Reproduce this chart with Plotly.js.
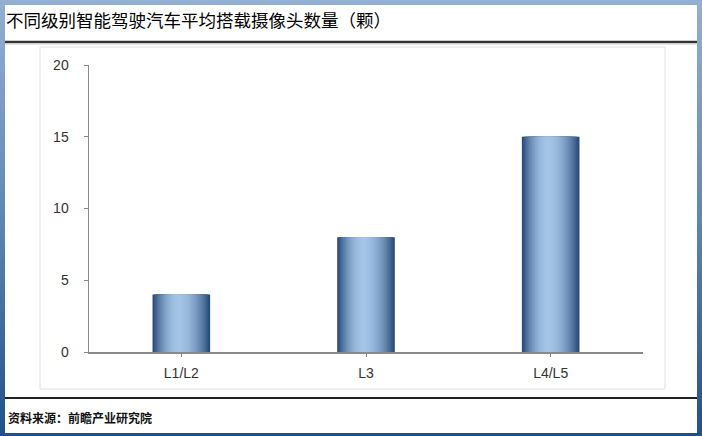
<!DOCTYPE html>
<html>
<head>
<meta charset="utf-8">
<script src="https://cdn.plot.ly/plotly-3.0.1.min.js"></script>
<style>
  html, body { margin: 0; padding: 0; background: #fff; }
  #wrap { position: relative; width: 702px; height: 436px; overflow: hidden;
          background: linear-gradient(to bottom, #93b0d2 0%, #5f86b3 50%, #1f5188 100%); }
  #chart { position: absolute; left: 5px; top: 5px; width: 692px; height: 428px; background: #fff; }
</style>
</head>
<body>
<div id="wrap"><div id="chart"></div></div>
<script>
// ---- data ----
const categories = ['L1/L2', 'L3', 'L4/L5'];
const cameraCounts = [4, 8, 15];
const yTickValues = [0, 5, 10, 15, 20];
const titleText = '不同级别智能驾驶汽车平均搭载摄像头数量（颗）';
const sourceText = '资料来源：前瞻产业研究院';

// ---- geometry helpers (page px -> paper coords) ----
const W = 692, H = 428, M = {l: 84, r: 54, t: 60, b: 81};
const PW = W - M.l - M.r, PH = H - M.t - M.b;
const px = x => (x - 5 - M.l) / PW;
const py = y => (H - M.b + 5 - y) / PH;

// ---- cylinder-like shading via nested overlay bars ----
const barW = 0.312, hiPos = 0.45, layers = 18;
const dark = [40, 76, 122], light = [163, 196, 230];
function mix(t) {
  const s = 1 - Math.pow(1 - t, 2.0);
  const c = dark.map((d, i) => Math.round(d + (light[i] - d) * s));
  return `rgb(${c[0]},${c[1]},${c[2]})`;
}
const traces = [];
for (let k = 0; k < layers; k++) {
  const t = k / layers;
  const w = barW * (1 - t);
  const off = -barW / 2 + t * hiPos * barW;
  traces.push({
    type: 'bar', x: categories, y: cameraCounts,
    width: categories.map(() => w), offset: categories.map(() => off),
    marker: {color: mix(t), line: {width: 0}},
    hoverinfo: 'skip', showlegend: false
  });
}

const layout = {
  width: W, height: H,
  margin: M,
  paper_bgcolor: '#fff', plot_bgcolor: 'rgba(0,0,0,0)',
  barmode: 'overlay', showlegend: false, hovermode: false,
  title: {
    text: titleText, xref: 'container', yref: 'container',
    x: 1 / W, xanchor: 'left', y: 1 - 16 / H, yanchor: 'middle',
    font: {family: 'Noto Sans CJK SC', size: 17.5, color: '#000', weight: 400}
  },
  xaxis: {
    type: 'category', range: [-0.5, 2.5],
    showline: true, linecolor: '#8a8a8a', linewidth: 1.5,
    ticks: 'outside', ticklen: 3, tickcolor: '#8a8a8a', tickwidth: 1,
    ticklabelstandoff: 5,
    showgrid: false, zeroline: false,
    tickfont: {family: 'Liberation Sans, Arial', size: 14, color: '#333'}
  },
  yaxis: {
    range: [0, 20], tickvals: yTickValues,
    showline: true, linecolor: '#8a8a8a', linewidth: 1.5,
    ticks: 'outside', ticklen: 4, tickcolor: '#8a8a8a', tickwidth: 1,
    ticklabelstandoff: 12,
    showgrid: false, zeroline: false,
    tickfont: {family: 'Liberation Sans, Arial', size: 14, color: '#333'}
  },
  shapes: [
    // title underline
    {type: 'line', xref: 'paper', yref: 'paper', x0: px(5), x1: px(697), y0: py(42), y1: py(42),
     line: {color: '#333', width: 2.5}},
    {type: 'line', xref: 'paper', yref: 'paper', x0: px(5), x1: px(697), y0: py(44), y1: py(44),
     line: {color: '#cfcfcf', width: 1}},
    // inner frame
    {type: 'rect', xref: 'paper', yref: 'paper', x0: px(40), x1: px(665), y0: py(389), y1: py(47),
     line: {color: '#e0e0e0', width: 1}, layer: 'below'},
    // footer line
    {type: 'line', xref: 'paper', yref: 'paper', x0: px(5), x1: px(697), y0: py(398), y1: py(398),
     line: {color: '#222', width: 2}}
  ],
  annotations: [
    {text: sourceText, xref: 'paper', yref: 'paper', x: px(6), y: py(417), xanchor: 'left', yanchor: 'middle',
     showarrow: false, font: {family: 'Noto Sans CJK SC', size: 12, color: '#111', weight: 'bold'}}
  ]
};

Plotly.newPlot('chart', traces, layout, {displayModeBar: false, staticPlot: true});
</script>
</body>
</html>
